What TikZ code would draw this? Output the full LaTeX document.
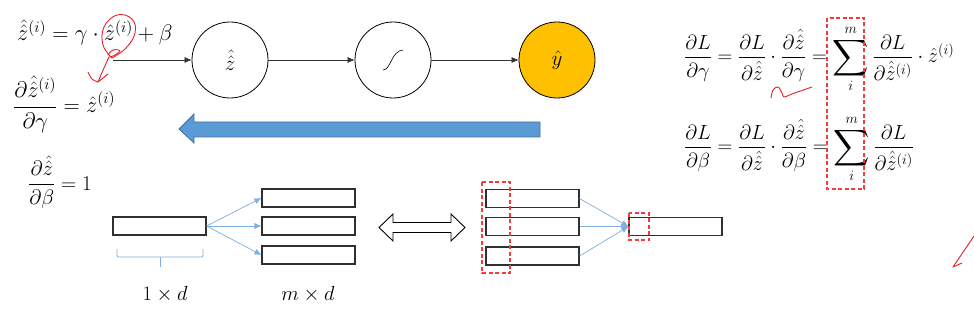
\RequirePackage{fix-cm}
\documentclass[tikz,border=0pt]{standalone}
\usepackage{amsmath}
\usepackage{graphicx}
\usetikzlibrary{arrows.meta}
\definecolor{bluefill}{HTML}{5B9BD5}
\definecolor{blueline}{HTML}{41719C}
\definecolor{lightblue}{HTML}{7FAEDF}
\definecolor{gold}{HTML}{FFC000}
\definecolor{penred}{HTML}{E8202A}
\definecolor{dashred}{HTML}{F03C3C}
\definecolor{barline}{HTML}{303030}
\newcommand{\bigsumlim}{\mathop{\vcenter{\hbox{\scalebox{1.22}{$\displaystyle\sum$}}}}\limits}
\tikzset{
  eqn/.style={inner sep=0pt, font=\fontsize{20.5}{25}\selectfont},
  eqnmid/.style={inner sep=0pt, font=\fontsize{21}{25}\selectfont},
  eqnbig/.style={inner sep=0pt, font=\fontsize{22.5}{27}\selectfont},
  neuron/.style={circle, draw=black, line width=0.8pt, minimum size=76pt, inner sep=0pt, font=\fontsize{21}{25}\selectfont},
  conn/.style={draw=black!80, line width=0.6pt, -{Latex[length=7pt,width=6pt]}},
  vecbar/.style={draw=barline, line width=1.1pt, minimum width=93pt, minimum height=18pt, inner sep=0pt},
  bconn/.style={draw=lightblue, line width=0.7pt, -{Latex[length=7pt,width=6pt]}},
  redbox/.style={draw=dashred, line width=1.1pt, dash pattern=on 4pt off 2.5pt},
  pen/.style={draw=penred, line width=0.9pt, line cap=round, line join=round},
}
\begin{document}
\begin{tikzpicture}[x=1pt,y=-1pt]
\useasboundingbox (0,0) rectangle (974,310);
\fill[white] (0,0) rectangle (974,310);

% left equations
\node[eqnbig, anchor=base west] (eq1) at (17,41) {$\hat{\hat z}^{(i)} = \gamma\cdot\hat z^{(i)} + \beta$};
\node[eqnbig, anchor=base west] (eq2) at (13,113) {$\displaystyle\frac{\partial\hat{\hat z}^{(i)}}{\partial\gamma} = \hat z^{(i)}$};
\node[eqnmid, anchor=base west] (eq3) at (28,190) {$\displaystyle\frac{\partial\hat{\hat z}}{\partial\beta} = 1$};

% network
\node[neuron] (c1) at (230,60) {$\hat{\hat z}$};
\node[neuron] (c2) at (393,60) {};
\node[neuron, fill=gold] (c3) at (557,60) {$\hat y$};
\coordinate (s) at (113,60);
\draw[conn] (s) -- (c1);
\draw[conn] (c1) -- (c2);
\draw[conn] (c2) -- (c3);
% sigmoid glyph
\draw[black, line width=0.6pt] (383,70) .. controls (391,70) and (391,51) .. (403,50);

% big backward arrow
\draw[fill=bluefill, draw=blueline, line width=0.8pt]
  (179,129) -- (194,114) -- (194,122) -- (540,122) -- (540,137) -- (194,137) -- (194,143) -- cycle;

% right equations
\node[eqn, anchor=base west] (eq4) at (684,63) {$\displaystyle\frac{\partial L}{\partial\gamma} = \frac{\partial L}{\partial\hat{\hat z}}\cdot\frac{\partial\hat{\hat z}}{\partial\gamma} = \bigsumlim_{i}^{m}\frac{\partial L}{\partial\hat{\hat z}^{(i)}}\cdot\hat z^{(i)}$};
\node[eqn, anchor=base west] (eq5) at (684,153) {$\displaystyle\frac{\partial L}{\partial\beta} = \frac{\partial L}{\partial\hat{\hat z}}\cdot\frac{\partial\hat{\hat z}}{\partial\beta} = \bigsumlim_{i}^{m}\frac{\partial L}{\partial\hat{\hat z}^{(i)}}$};
\draw[redbox] (827,18) rectangle (864,189);

% bottom: broadcast
\node[vecbar] (a) at (159.5,226) {};
\node[vecbar] (b1) at (308.5,198) {};
\node[vecbar] (b2) at (308.5,226) {};
\node[vecbar] (b3) at (308.5,255) {};
\draw[bconn] (a.east) -- (b1.west);
\draw[bconn] (a.east) -- (b2.west);
\draw[bconn] (a.east) -- (b3.west);
\draw[draw=lightblue, line width=0.8pt, rounded corners=2pt] (117,249) -- (117,257) -- (203,257) -- (203,249);
\draw[draw=lightblue, line width=0.8pt] (160,257) -- (160,267);
\node[eqn] (l1) at (165,294) {$1\times d$};
\node[eqn] (l2) at (308,294) {$m\times d$};

% double arrow
\draw[draw=black, fill=white, line width=0.9pt]
  (379,227.5) -- (393,214) -- (393,222.5) -- (451,222.5) -- (451,214) -- (465,227.5)
  -- (451,241) -- (451,232.5) -- (393,232.5) -- (393,241) -- cycle;

% bottom: sum
\node[vecbar] (r1) at (532.5,198.5) {};
\node[vecbar] (r2) at (532.5,226.5) {};
\node[vecbar] (r3) at (532.5,256) {};
\node[vecbar] (t) at (675.5,226.5) {};
\draw[bconn] (r1.east) -- (t.west);
\draw[bconn] (r2.east) -- (t.west);
\draw[bconn] (r3.east) -- (t.west);
\draw[redbox] (482,182) rectangle (510,273);
\draw[redbox] (629,213) rectangle (649,240);

% hand-drawn red marks
\draw[pen] plot[smooth, tension=0.7] coordinates {(112,58) (103,45) (104,27) (117,15) (132,19) (135,33) (126,48) (112,58)};
\draw[pen] plot[smooth, tension=0.7] coordinates {(108,55) (113,50) (120,51) (113,56) (109,57)};
\draw[pen] plot[smooth, tension=0.6] coordinates {(109,57) (104,68) (98,82)};
\draw[pen] plot[smooth, tension=0.6] coordinates {(88,72) (92,79) (98,82)};
\draw[pen] (98,82) -- (108,74);
\draw[pen] plot[smooth, tension=0.6] coordinates {(771,98) (773,90) (778,87) (782,93) (784,97) (792,94) (812,87)};
\draw[pen] (974,236) -- (953,267) -- (962,263);
\end{tikzpicture}
\end{document}
